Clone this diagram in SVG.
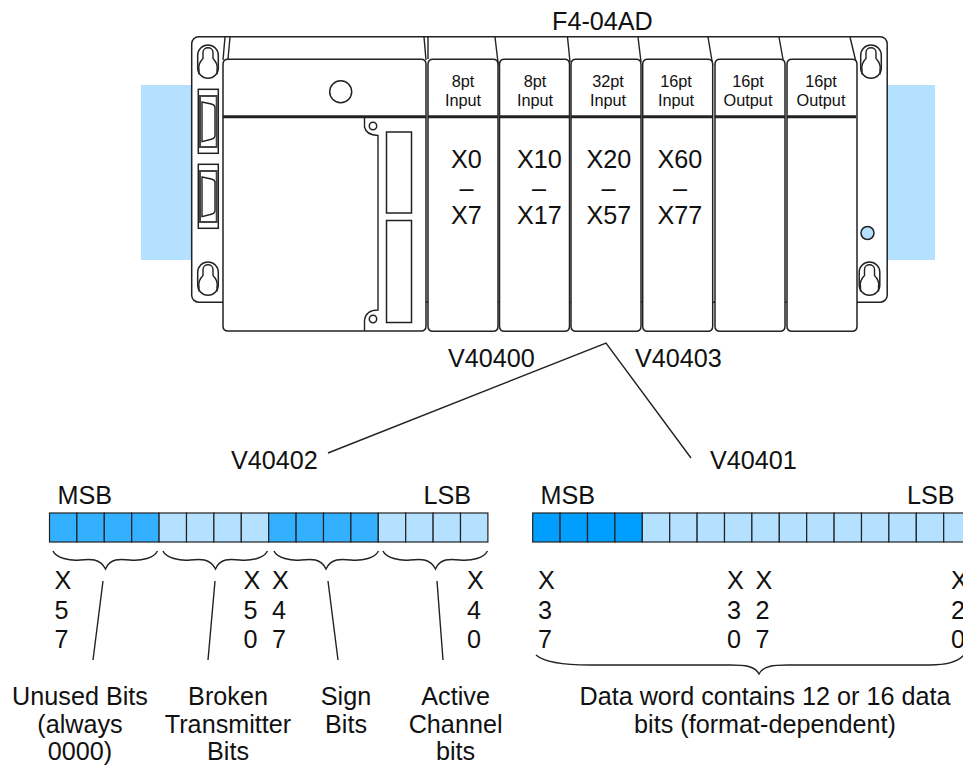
<svg xmlns="http://www.w3.org/2000/svg" width="963" height="766" viewBox="0 0 963 766">
<style>
text{font-family:"Liberation Sans",Arial,sans-serif;fill:#111;font-size:25.2px}
.c{text-anchor:middle}
.s{font-size:16.3px;text-anchor:middle}
.o{fill:#fff;stroke:#222;stroke-width:1.5}
.l{fill:none;stroke:#222;stroke-width:1.4}
.t{fill:none;stroke:#222;stroke-width:3}
.f{fill:none;stroke:#444;stroke-width:2}
.d{fill:#33B0FF;stroke:#222;stroke-width:1.2}
.e{fill:#009FFF;stroke:#222;stroke-width:1.2}
.g{fill:#B3E1FF;stroke:#222;stroke-width:1.2}
.b{fill:#B3E1FF}
</style>
<defs>
<g id="key"><rect x="-10.300" y="-16.600" width="20.600" height="33.200" rx="10.300" class="o"/><path d="M-9 13V8C-10 2 -7 -1 -5 -3V-9C-5 -15.500 5 -15.500 5 -9V-3C7 -1 10 2 9 8V13" class="l"/></g>
<g id="dsub"><rect x="0" y="0" width="20" height="64" class="o"/><rect x="1.700" y="6.700" width="16.700" height="51" class="f"/><path d="M3.700 12.700L13 14.700Q16.700 15.700 16.700 18V46Q16.700 49 13 50L3.700 52.400Z" class="l"/></g>
<path id="mod" d="M5 0H65Q70 0 70 5V267Q70 272 65 272H5Q0 272 0 267V5Q0 0 5 0Z" class="o"/>
</defs>
<g id="rack">
<rect class="b" x="141" y="85" width="51" height="175"/>
<rect class="b" x="887" y="85" width="48" height="175"/>
<rect class="o" x="191.700" y="36.700" width="695.500" height="265.500" rx="7"/>
<path class="l" d="M225 37L223 60M230 37L228 59M424 37L426 60M428 37L428 59M495 37L498.300 65M567.500 37L570 62M638 37L641 62M708 37L712.700 65M779 37L784 65M850 37L856 62"/>
<use href="#key" transform="translate(208 61.600)"/>
<use href="#key" transform="translate(208 278.600)"/>
<use href="#key" transform="translate(871 61.600)"/>
<use href="#key" transform="translate(869.500 278.600)"/>
<use href="#dsub" transform="translate(198.300 89.300)"/>
<use href="#dsub" transform="translate(198.300 164.300)"/>
<circle cx="867.500" cy="233" r="6.500" fill="#B3E1FF" stroke="#222" stroke-width="1.500"/>
</g>
<g id="cpu">
<path class="o" d="M228 59.300H421Q426 59.300 426 64.300V326Q426 331 421 331H228Q223 331 223 326V64.300Q223 59.300 228 59.300Z"/>
<path class="t" d="M223 116.700H426"/>
<circle class="o" cx="340.700" cy="91.700" r="11"/>
<path class="l" d="M364.500 118V127Q366 135 378 135.500V310Q366 310 364.500 320V331"/>
<circle class="o" cx="373" cy="126" r="3.700"/><circle class="o" cx="373" cy="319" r="3.700"/>
<rect class="o" x="386.500" y="132" width="25" height="81"/>
<rect class="o" x="386.500" y="220.500" width="25" height="102"/>
</g>
<g id="m1"><use href="#mod" transform="translate(428 59.300)"/><path class="t" d="M428 116.700H498"/><text class="s" x="463" y="87">8pt</text><text class="s" x="463" y="106">Input</text><text x="451" y="167.500">X0</text><text class="c" x="466.500" y="196.500">–</text><text x="451" y="224">X7</text></g>
<g id="m2"><use href="#mod" transform="translate(499.500 59.300)"/><path class="t" d="M499.500 116.700H569.500"/><text class="s" x="535" y="87">8pt</text><text class="s" x="535" y="106">Input</text><text x="517" y="167.500">X10</text><text class="c" x="539" y="196.500">–</text><text x="517" y="224">X17</text></g>
<g id="m3"><use href="#mod" transform="translate(571 59.300)"/><path class="t" d="M571 116.700H641"/><text class="s" x="608" y="87">32pt</text><text class="s" x="608" y="106">Input</text><text x="586.500" y="167.500">X20</text><text class="c" x="608.500" y="196.500">–</text><text x="586.500" y="224">X57</text></g>
<g id="m4"><use href="#mod" transform="translate(642.700 59.300)"/><path class="t" d="M642.700 116.700H712.700"/><text class="s" x="676" y="87">16pt</text><text class="s" x="676" y="106">Input</text><text x="657.500" y="167.500">X60</text><text class="c" x="680" y="196.500">–</text><text x="657.500" y="224">X77</text></g>
<g id="m5"><use href="#mod" transform="translate(715 59.300)"/><path class="t" d="M715 116.700H785"/><text class="s" x="748" y="87">16pt</text><text class="s" x="748" y="106">Output</text></g>
<g id="m6"><use href="#mod" transform="translate(787 59.300)"/><path class="t" d="M787 116.700H856"/><text class="s" x="821" y="87">16pt</text><text class="s" x="821" y="106">Output</text></g>
<text id="lbl-module" x="552" y="30">F4-04AD</text>
<text x="448" y="367">V40400</text><text x="635" y="367">V40403</text>
<text x="231" y="469">V40402</text><text x="710" y="469">V40401</text>
<g id="connectors">
<path class="l" d="M328 453L606 343L691 458"/>
<path class="l" d="M103 581L93 660M215 581L208 660M328 581L338 660M437 581L443 660"/>
<path class="l" d="M53 551C56 558 70 561 80 560C90 559 100 558 105.500 569C110 558 120 559 130 560C142 561 154 558 157.500 551"/>
<path class="l" d="M163 551C166 558 180 561 190 560C200 559 210 558 215.500 569C220 558 230 559 240 560C252 561 264 558 267.500 551"/>
<path class="l" d="M274 551C277 558 291 561 301 560C311 559 321 558 326 569C331 558 341 559 351 560C363 561 375 558 378.500 551"/>
<path class="l" d="M383 551C386 558 400 561 410 560C420 559 430 558 435.500 569C440 558 450 559 460 560C472 561 484 558 487.500 551"/>
<path class="l" d="M536 655C545 663 570 665 590 665H730C745 665 755 666 759 674C763 666 773 665 788 665H930C945 665 958 662 964 655"/>
</g>
<g id="word-left">
<text x="57.500" y="504">MSB</text><text x="423.500" y="504">LSB</text>
<rect class="d" x="49.500" y="513" width="27.400" height="29"/><rect class="d" x="76.900" y="513" width="27.400" height="29"/><rect class="d" x="104.300" y="513" width="27.400" height="29"/><rect class="d" x="131.700" y="513" width="27.400" height="29"/>
<rect class="g" x="159.100" y="513" width="27.400" height="29"/><rect class="g" x="186.500" y="513" width="27.400" height="29"/><rect class="g" x="213.900" y="513" width="27.400" height="29"/><rect class="g" x="241.300" y="513" width="27.400" height="29"/>
<rect class="d" x="268.700" y="513" width="27.400" height="29"/><rect class="d" x="296.100" y="513" width="27.400" height="29"/><rect class="d" x="323.500" y="513" width="27.400" height="29"/><rect class="d" x="350.900" y="513" width="27.400" height="29"/>
<rect class="g" x="378.300" y="513" width="27.400" height="29"/><rect class="g" x="405.700" y="513" width="27.400" height="29"/><rect class="g" x="433.100" y="513" width="27.400" height="29"/><rect class="g" x="460.500" y="513" width="27.400" height="29"/>
<text x="54.500" y="589">X</text><text x="54.500" y="618.500">5</text><text x="54.500" y="648">7</text>
<text x="243.500" y="589">X</text><text x="243.500" y="618.500">5</text><text x="243.500" y="648">0</text>
<text x="272" y="589">X</text><text x="272" y="618.500">4</text><text x="272" y="648">7</text>
<text x="467" y="589">X</text><text x="467" y="618.500">4</text><text x="467" y="648">0</text>
</g>
<g id="word-right">
<text x="540.500" y="504">MSB</text><text x="907" y="504">LSB</text>
<rect class="e" x="532.700" y="513" width="27.400" height="29"/><rect class="e" x="560.100" y="513" width="27.400" height="29"/><rect class="e" x="587.500" y="513" width="27.400" height="29"/><rect class="e" x="614.900" y="513" width="27.400" height="29"/>
<rect class="g" x="642.300" y="513" width="27.400" height="29"/><rect class="g" x="669.700" y="513" width="27.400" height="29"/><rect class="g" x="697.100" y="513" width="27.400" height="29"/><rect class="g" x="724.500" y="513" width="27.400" height="29"/>
<rect class="g" x="751.900" y="513" width="27.400" height="29"/><rect class="g" x="779.300" y="513" width="27.400" height="29"/><rect class="g" x="806.700" y="513" width="27.400" height="29"/><rect class="g" x="834.100" y="513" width="27.400" height="29"/>
<rect class="g" x="861.500" y="513" width="27.400" height="29"/><rect class="g" x="888.900" y="513" width="27.400" height="29"/><rect class="g" x="916.300" y="513" width="27.400" height="29"/><rect class="g" x="943.700" y="513" width="27.400" height="29"/>
<text x="538" y="589">X</text><text x="538" y="618.500">3</text><text x="538" y="648">7</text>
<text x="727" y="589">X</text><text x="727" y="618.500">3</text><text x="727" y="648">0</text>
<text x="755.500" y="589">X</text><text x="755.500" y="618.500">2</text><text x="755.500" y="648">7</text>
<text x="951" y="589">X</text><text x="951" y="618.500">2</text><text x="951" y="648">0</text>
</g>
<g id="captions">
<text class="c" x="80" y="705">Unused Bits</text><text class="c" x="80" y="732.500">(always</text><text class="c" x="80" y="760">0000)</text>
<text class="c" x="228" y="705">Broken</text><text class="c" x="228" y="732.500">Transmitter</text><text class="c" x="228" y="760">Bits</text>
<text class="c" x="346" y="705">Sign</text><text class="c" x="346" y="732.500">Bits</text>
<text class="c" x="455.600" y="705">Active</text><text class="c" x="455.600" y="732.500">Channel</text><text class="c" x="455.600" y="760">bits</text>
<text class="c" x="765" y="705">Data word contains 12 or 16 data</text><text class="c" x="765" y="732.500">bits (format-dependent)</text>
</g>
</svg>
